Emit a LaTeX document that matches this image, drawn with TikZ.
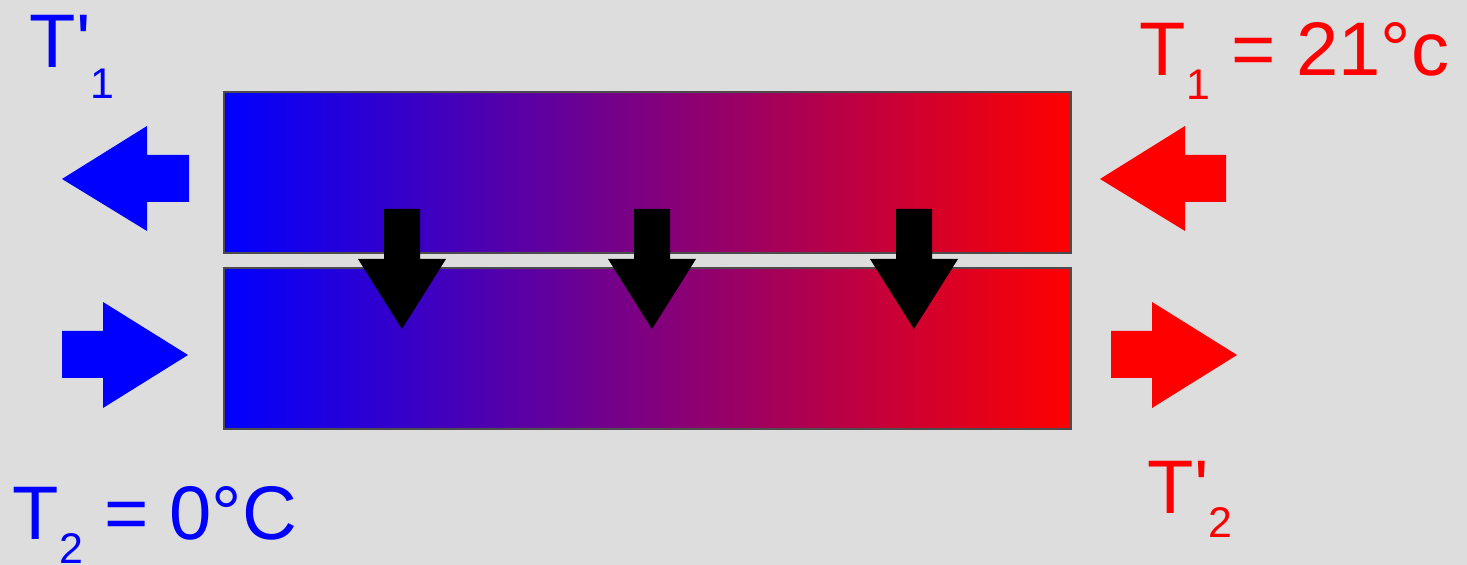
\documentclass[tikz,border=0pt]{standalone}
\usepackage{fontspec}
\newfontfamily\labelfont{Liberation Sans}
\definecolor{bggray}{HTML}{DDDDDD}
\newcommand{\subidx}[2][6.8pt]{\raisebox{-#1}{\fontsize{12.2}{14}\selectfont #2}}
\begin{document}
\begin{tikzpicture}[x=0.01cm, y=-0.01cm, every node/.style={inner sep=0pt, anchor=base west, font=\labelfont\fontsize{21.6}{25}\selectfont}]
				% 1. 背景层（最底层）
				\fill[bggray] (0,0) rectangle (1467,565);
				\useasboundingbox (0,0) rectangle (1467,565);
				
				% 2. 两根管道（蓝→红渐变）
				\shade[left color=blue, right color=red, draw=black!70, line width=0.5pt] (224,92) rectangle (1071,253);
				\shade[left color=blue, right color=red, draw=black!70, line width=0.5pt] (224,268) rectangle (1071,429);
				
				% 3. 热流箭头（向下）
				\foreach \cx in {402,652,914}
					\fill[black] (\cx-18,209) -- (\cx+18,209) -- (\cx+18,259) -- (\cx+44,259) -- (\cx,329) -- (\cx-44,259) -- (\cx-18,259) -- cycle;
				
				% 4. 进出口箭头
				\fill[blue] (62,179) -- (147,126) -- (147,155) -- (189,155) -- (189,202) -- (147,202) -- (147,231) -- cycle;
				\fill[blue] (62,331) -- (103,331) -- (103,302) -- (188,355) -- (103,408) -- (103,378) -- (62,378) -- cycle;
				\fill[red] (1100,179) -- (1185,126) -- (1185,155) -- (1226,155) -- (1226,202) -- (1185,202) -- (1185,231) -- cycle;
				\fill[red] (1111,331) -- (1152,331) -- (1152,302) -- (1237,355) -- (1152,408) -- (1152,378) -- (1111,378) -- cycle;
				
				% 5. 温度标号（最高层）
				\node[text=blue] (tcoldout) at (29,68) {T'\subidx[8.8pt]{1}};
				\node[text=red] (thotin) at (1139,76) {T\subidx{1} = 21°c};
				\node[text=blue] (tcoldin) at (12,540) {T\subidx{2} = 0°C};
				\node[text=red] (thotout) at (1147,514) {T'\subidx{2}};
			\end{tikzpicture}
\end{document}
